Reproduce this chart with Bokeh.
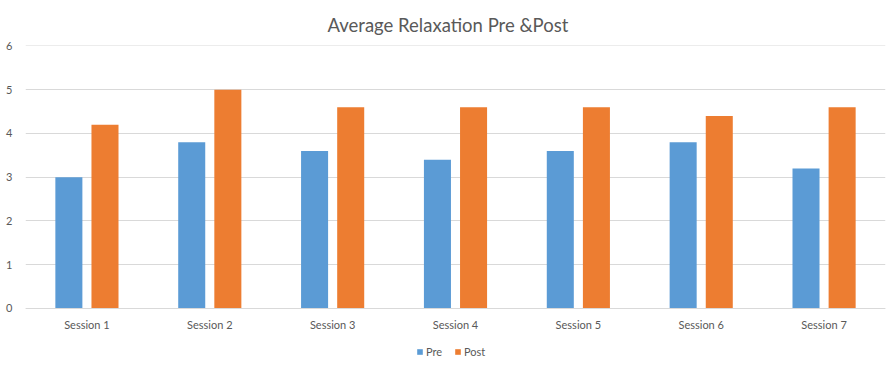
from bokeh.plotting import figure
from bokeh.models import FactorRange, Range1d, Legend, LegendItem, ColumnDataSource, FixedTicker
from bokeh.transform import dodge
from bokeh.embed import file_html
from bokeh.resources import INLINE

sessions = ["Session 1", "Session 2", "Session 3", "Session 4", "Session 5", "Session 6", "Session 7"]
pre = [3.0, 3.8, 3.6, 3.4, 3.6, 3.8, 3.2]
post = [4.2, 5.0, 4.6, 4.6, 4.6, 4.4, 4.6]
y_ticks = [0, 1, 2, 3, 4, 5, 6]

src = ColumnDataSource(dict(session=sessions, pre=pre, post=post))

p = figure(width=896, height=371, x_range=FactorRange(*sessions, range_padding=0),
           y_range=Range1d(-1.44, 6.01), output_backend="svg", toolbar_location=None,
           min_border_left=25, min_border_right=11, min_border_top=45, min_border_bottom=0)
p.title.text = "Average Relaxation Pre &Post"
p.title.align = "left"
p.title.text_font = "Lato"
p.title.text_font_size = "18.5px"
p.title.text_font_style = "normal"
p.title.text_color = "#595959"
p.title.offset = 302
p.title.standoff = 20
p.outline_line_color = None

r1 = p.vbar(x=dodge("session", -0.147, range=p.x_range), top="pre", width=0.22, source=src,
            fill_color="#5B9BD5", line_color=None)
r2 = p.vbar(x=dodge("session", 0.147, range=p.x_range), top="post", width=0.22, source=src,
            fill_color="#ED7D31", line_color=None)

p.yaxis.ticker = FixedTicker(ticks=y_ticks)
p.yaxis.axis_line_color = None
p.yaxis.major_tick_line_color = None
p.yaxis.minor_tick_line_color = None
p.yaxis.major_label_text_font = "Lato"
p.yaxis.major_label_text_font_size = "11px"
p.yaxis.major_label_text_color = "#595959"
p.yaxis.major_label_standoff = 7

p.xaxis.fixed_location = 0
p.xaxis.axis_line_color = "#d9d9d9"
p.xaxis.major_tick_line_color = None
p.xaxis.minor_tick_line_color = None
p.xaxis.major_label_text_font = "Lato"
p.xaxis.major_label_text_font_size = "11px"
p.xaxis.major_label_text_color = "#595959"
p.xaxis.major_label_standoff = 4

p.xgrid.grid_line_color = None
p.ygrid.grid_line_color = "#d9d9d9"
p.ygrid.ticker = FixedTicker(ticks=y_ticks)

legend = Legend(items=[LegendItem(label="Pre", renderers=[r1]), LegendItem(label="Post", renderers=[r2])],
                orientation="horizontal", location=(391, 13))
legend.label_text_font = "Lato"
legend.label_text_font_size = "11px"
legend.label_text_color = "#595959"
legend.glyph_width = 7
legend.glyph_height = 7
legend.label_standoff = 3
legend.label_height = 12
legend.spacing = 8
legend.padding = 0
legend.margin = 0
legend.border_line_color = None
legend.background_fill_alpha = 0
p.add_layout(legend, "center")

open("out.html", "w").write(file_html(p, INLINE))
